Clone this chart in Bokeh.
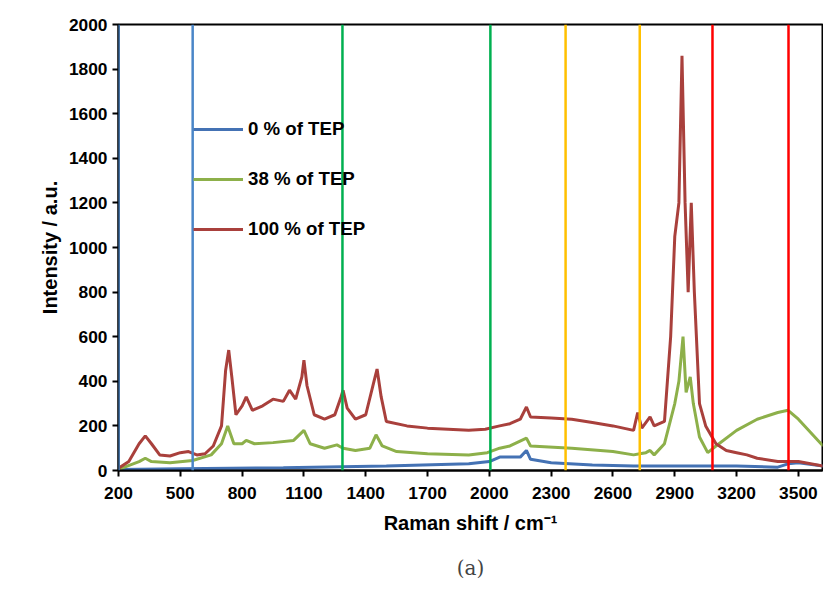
from bokeh.plotting import figure
from bokeh.models import Span, Legend, LegendItem, Title, FixedTicker, Range1d
from bokeh.embed import file_html
from bokeh.resources import INLINE

red_x = [200,250,300,330,360,400,450,500,540,580,620,660,700,720,735,750,770,800,820,850,900,950,1000,1030,1060,1090,1100,1115,1150,1200,1250,1280,1290,1310,1350,1400,1440,1455,1475,1500,1600,1700,1800,1900,1980,2050,2100,2150,2180,2200,2300,2400,2500,2600,2700,2720,2740,2780,2800,2850,2880,2900,2920,2935,2950,2965,2980,2995,3020,3050,3100,3150,3200,3250,3300,3400,3500,3620]
red_y = [10,40,120,155,120,70,65,80,85,70,75,110,200,450,540,420,250,290,330,270,290,320,310,360,320,420,495,380,250,230,250,330,360,280,230,250,400,455,330,220,200,190,185,180,185,200,210,230,285,240,235,230,215,200,180,260,190,240,200,220,600,1050,1200,1860,1200,800,1200,800,300,200,120,90,80,70,55,40,40,20]
green_x = [200,300,330,360,450,560,650,700,730,760,800,820,860,950,1050,1100,1130,1200,1260,1290,1350,1420,1450,1480,1550,1700,1900,1990,2050,2100,2180,2200,2400,2600,2700,2730,2760,2780,2800,2850,2900,2920,2940,2955,2975,2990,3020,3060,3100,3200,3300,3400,3450,3500,3620]
green_y = [5,40,55,40,35,45,70,120,200,120,120,135,120,125,135,180,120,100,115,100,90,100,160,110,85,75,70,80,100,110,145,110,100,85,70,75,80,90,70,120,300,400,600,350,420,300,150,80,110,180,230,260,270,230,110]
blue_x = [200,500,1000,1500,1900,2000,2050,2150,2180,2200,2300,2500,2700,3000,3200,3400,3450,3500,3620]
blue_y = [5,8,12,20,30,40,60,60,90,50,35,25,20,20,20,15,30,35,20]
vlines = [(200,"#4a86c8"),(560,"#4a86c8"),(1287,"#00b050"),(2005,"#00b050"),(2370,"#ffc000"),(2730,"#ffc000"),(3083,"#ff0000"),(3452,"#ff0000")]
xticks = list(range(200, 3501, 300))
yticks = list(range(0, 2001, 200))

p = figure(width=823, height=596, output_backend="svg", toolbar_location=None,
           x_range=Range1d(200, 3617), y_range=Range1d(0, 2000),
           min_border_left=118, min_border_top=24, min_border_right=1, min_border_bottom=125)
p.background_fill_color = "white"
p.border_fill_color = "white"
p.outline_line_color = "black"
p.outline_line_width = 2
p.xgrid.visible = False
p.ygrid.visible = False
for v, c in vlines:
    p.add_layout(Span(location=v, dimension="height", line_color=c, line_width=2.5))
lb = p.line(blue_x, blue_y, line_color="#4472b4", line_width=3)
lg = p.line(green_x, green_y, line_color="#8db04a", line_width=3)
lr = p.line(red_x, red_y, line_color="#a9403c", line_width=3)
for ax in (p.xaxis[0], p.yaxis[0]):
    ax.axis_line_color = "black"
    ax.axis_line_width = 2
    ax.major_tick_line_width = 2
    ax.major_tick_in = 0
    ax.major_tick_out = 6
    ax.minor_tick_line_color = None
    ax.major_label_text_font = "Liberation Sans"
    ax.major_label_text_font_style = "bold"
    ax.major_label_text_font_size = "13pt"
    ax.major_label_text_color = "black"
    ax.axis_label_text_font = "Liberation Sans"
    ax.axis_label_text_font_style = "bold"
    ax.axis_label_text_font_size = "15pt"
    ax.axis_label_text_color = "black"
p.xaxis.ticker = FixedTicker(ticks=xticks)
p.yaxis.ticker = FixedTicker(ticks=yticks)
p.xaxis.axis_label = "Raman shift / cm⁻¹"
p.yaxis.axis_label = "Intensity / a.u."
p.xaxis.major_label_standoff = 10
p.xaxis.axis_label_standoff = 10
leg = Legend(items=[LegendItem(label="0 % of TEP", renderers=[lb]),
                    LegendItem(label="38 % of TEP", renderers=[lg]),
                    LegendItem(label="100 % of TEP", renderers=[lr])],
             location=(75, 230), spacing=28, glyph_width=50, border_line_color=None,
             background_fill_alpha=0, label_text_font="Liberation Sans", label_text_color="black",
             label_text_font_style="bold", label_text_font_size="14pt")
p.add_layout(leg, "center")
p.add_layout(Title(text="(a)", align="center", text_font_size="15pt", text_font="DejaVu Serif",
                   text_font_style="normal", standoff=34), "below")
open("out.html", "w").write(file_html(p, INLINE))
